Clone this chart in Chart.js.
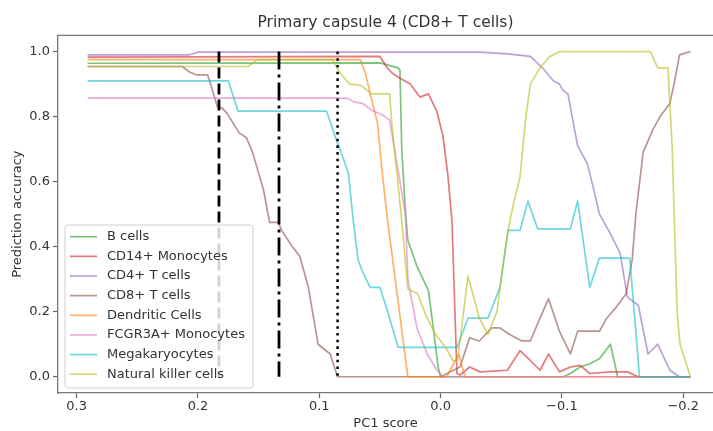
<!DOCTYPE html>
<html>
<head>
<meta charset="utf-8">
<script src="https://cdn.jsdelivr.net/npm/chart.js@4.4.1/dist/chart.umd.min.js"></script>
<style>
  html, body { margin: 0; padding: 0; background: #ffffff; overflow: hidden; }
  canvas { display: block; }
</style>
</head>
<body>
<canvas id="c" width="713" height="431"></canvas>
<script>
// ---------- data ----------
const chartTitle = 'Primary capsule 4 (CD8+ T cells)';
const xAxisTitle = 'PC1 score';
const yAxisTitle = 'Prediction accuracy';

const categories = ['B cells', 'CD14+ Monocytes', 'CD4+ T cells', 'CD8+ T cells',
  'Dendritic Cells', 'FCGR3A+ Monocytes', 'Megakaryocytes', 'Natural killer cells'];

const xTicks = [0.3, 0.2, 0.1, 0.0, -0.1, -0.2];
const xTickLabels = ['0.3', '0.2', '0.1', '0.0', '\u22120.1', '\u22120.2'];
const yTicks = [0.0, 0.2, 0.4, 0.6, 0.8, 1.0];
const yTickLabels = ['0.0', '0.2', '0.4', '0.6', '0.8', '1.0'];

const bCellsX = [0.291, 0.050, 0.035, 0.0335, 0.032, 0.029, 0.027, 0.0195, 0.017, 0.010, 0.006, 0.002, 0.000, -0.101, -0.107, -0.115, -0.123, -0.131, -0.140, -0.146, -0.206];
const bCellsY = [0.964, 0.965, 0.95, 0.943, 0.70, 0.51, 0.42, 0.34, 0.32, 0.265, 0.15, 0.03, 0.0, 0.0, 0.01, 0.03, 0.04, 0.055, 0.10, 0.0, 0.0];

const cd14X = [0.291, 0.050, 0.044, 0.040, 0.0335, 0.025, 0.017, 0.010, 0.003, -0.002, -0.006, -0.0094, -0.0135, -0.016, -0.024, -0.0325, -0.055, -0.0655, -0.074, -0.082, -0.089, -0.098, -0.107, -0.115, -0.123, -0.140, -0.154, -0.163, -0.206];
const cd14Y = [0.983, 0.985, 0.95, 0.934, 0.918, 0.90, 0.86, 0.87, 0.815, 0.74, 0.62, 0.48, 0.01, 0.005, 0.03, 0.015, 0.02, 0.08, 0.05, 0.02, 0.07, 0.015, 0.03, 0.035, 0.01, 0.015, 0.015, 0.0, 0.0];

const cd4X = [0.291, 0.207, 0.200, -0.0325, -0.055, -0.074, -0.084, -0.093, -0.098, -0.101, -0.105, -0.109, -0.113, -0.121, -0.126, -0.131, -0.140, -0.148, -0.154, -0.163, -0.171, -0.179, -0.189, -0.197, -0.206];
const cd4Y = [0.99, 0.99, 0.998, 0.998, 0.993, 0.985, 0.95, 0.91, 0.90, 0.88, 0.87, 0.79, 0.71, 0.655, 0.58, 0.50, 0.44, 0.38, 0.245, 0.22, 0.07, 0.10, 0.02, 0.0, 0.0];

const cd8X = [0.291, 0.213, 0.207, 0.201, 0.192, 0.188, 0.184, 0.180, 0.176, 0.171, 0.166, 0.160, 0.155, 0.146, 0.141, 0.134, 0.131, 0.124, 0.116, 0.109, 0.101, 0.091, 0.085, 0.000, -0.016, -0.024, -0.032, -0.042, -0.049, -0.057, -0.067, -0.074, -0.082, -0.089, -0.098, -0.107, -0.113, -0.123, -0.131, -0.137, -0.145, -0.153, -0.158, -0.161, -0.167, -0.175, -0.181, -0.189, -0.193, -0.197, -0.206];
const cd8Y = [0.954, 0.954, 0.937, 0.928, 0.928, 0.88, 0.83, 0.826, 0.81, 0.78, 0.75, 0.735, 0.69, 0.575, 0.475, 0.475, 0.45, 0.41, 0.37, 0.275, 0.10, 0.07, 0.0, 0.0, 0.03, 0.12, 0.11, 0.15, 0.15, 0.13, 0.11, 0.11, 0.18, 0.24, 0.14, 0.07, 0.14, 0.14, 0.14, 0.18, 0.215, 0.255, 0.36, 0.50, 0.69, 0.76, 0.80, 0.84, 0.91, 0.99, 1.0];

const dendX = [0.291, 0.066, 0.062, 0.058, 0.052, 0.048, 0.044, 0.027, -0.005, -0.015, -0.020, -0.206];
const dendY = [0.975, 0.975, 0.934, 0.87, 0.78, 0.625, 0.49, 0.0, 0.0, 0.07, 0.0, 0.0];

const fcgrX = [0.291, 0.077, 0.072, 0.064, 0.057, 0.048, 0.042, 0.029, 0.027, 0.0195, 0.011, 0.003, -0.002, -0.206];
const fcgrY = [0.857, 0.857, 0.846, 0.84, 0.82, 0.805, 0.79, 0.50, 0.30, 0.15, 0.07, 0.02, 0.0, 0.0];

const megaX = [0.291, 0.175, 0.167, 0.094, 0.087, 0.0805, 0.076, 0.072, 0.068, 0.064, 0.058, 0.050, 0.044, 0.035, -0.0135, -0.0226, -0.039, -0.049, -0.0556, -0.0655, -0.072, -0.080, -0.107, -0.113, -0.123, -0.131, -0.156, -0.164, -0.206];
const megaY = [0.91, 0.91, 0.817, 0.817, 0.74, 0.675, 0.625, 0.48, 0.36, 0.32, 0.275, 0.275, 0.205, 0.09, 0.09, 0.18, 0.18, 0.275, 0.45, 0.45, 0.54, 0.455, 0.455, 0.54, 0.275, 0.365, 0.365, 0.0, 0.0];

const nkX = [0.291, 0.159, 0.151, 0.089, 0.083, 0.075, 0.066, 0.057, 0.042, 0.040, 0.036, 0.032, 0.027, 0.019, 0.011, 0.005, -0.005, -0.010, -0.014, -0.0226, -0.032, -0.039, -0.0465, -0.0514, -0.0556, -0.060, -0.0655, -0.070, -0.074, -0.082, -0.090, -0.098, -0.173, -0.179, -0.1875, -0.191, -0.195, -0.1974, -0.206];
const nkY = [0.954, 0.954, 0.975, 0.975, 0.934, 0.90, 0.897, 0.87, 0.87, 0.77, 0.625, 0.48, 0.27, 0.255, 0.18, 0.135, 0.085, 0.05, 0.05, 0.31, 0.18, 0.13, 0.20, 0.34, 0.45, 0.53, 0.615, 0.79, 0.90, 0.95, 0.985, 1.0, 1.0, 0.95, 0.95, 0.70, 0.20, 0.10, 0.0];

// vertical threshold lines (x positions), drawn from 1 down to 0
const vlineX = [0.1827, 0.1332, 0.0849];
const vlineY = [1.0, 0.0];

// ---------- styling ----------
const seriesX = [bCellsX, cd14X, cd4X, cd8X, dendX, fcgrX, megaX, nkX];
const seriesY = [bCellsY, cd14Y, cd4Y, cd8Y, dendY, fcgrY, megaY, nkY];
const seriesColors = [
  'rgba(44,160,44,0.62)', 'rgba(214,39,40,0.62)', 'rgba(148,103,189,0.62)', 'rgba(140,86,75,0.62)',
  'rgba(255,127,14,0.62)', 'rgba(227,119,194,0.62)', 'rgba(23,190,207,0.62)', 'rgba(188,189,34,0.62)'
];
const vlineDash = [[11, 5], [18, 5, 3, 5], [2.6, 4.1]];
const vlineWidth = [2.8, 2.8, 2.5];

const FONT = 'DejaVu Sans';
const TEXT = '#333333';

const datasets = [];
seriesX.forEach((xs, i) => {
  datasets.push({
    label: categories[i],
    data: xs.map((x, j) => ({ x: x, y: seriesY[i][j] })),
    borderColor: seriesColors[i],
    backgroundColor: seriesColors[i],
    borderWidth: 1.7,
    pointRadius: 0,
    tension: 0,
    fill: false,
    borderJoinStyle: 'round',
    order: 10 - i,
    isSeries: true
  });
});
vlineX.forEach((vx, i) => {
  datasets.push({
    label: 'threshold ' + (i + 1),
    data: vlineY.map(v => ({ x: vx, y: v })),
    borderColor: '#000000',
    borderWidth: vlineWidth[i],
    borderDash: vlineDash[i],
    borderCapStyle: 'butt',
    pointRadius: 0,
    fill: false,
    order: 0,
    isSeries: false
  });
});

const framePlugin = {
  id: 'frameAndLegend',
  afterDraw(chart) {
    const { ctx, chartArea } = chart;
    ctx.save();
    // top spine
    ctx.strokeStyle = '#777777';
    ctx.lineWidth = 1.3;
    ctx.beginPath();
    ctx.moveTo(chartArea.left, chartArea.top);
    ctx.lineTo(chartArea.right, chartArea.top);
    ctx.stroke();

    // legend box (lower left, inside axes)
    const boxW = 188, boxH = 163, rowH = 19.65;
    const left = chartArea.left + 7;
    const top = chartArea.bottom - 5 - boxH;
    const r = 3;
    ctx.beginPath();
    ctx.moveTo(left + r, top);
    ctx.lineTo(left + boxW - r, top);
    ctx.arcTo(left + boxW, top, left + boxW, top + r, r);
    ctx.lineTo(left + boxW, top + boxH - r);
    ctx.arcTo(left + boxW, top + boxH, left + boxW - r, top + boxH, r);
    ctx.lineTo(left + r, top + boxH);
    ctx.arcTo(left, top + boxH, left, top + boxH - r, r);
    ctx.lineTo(left, top + r);
    ctx.arcTo(left, top, left + r, top, r);
    ctx.closePath();
    ctx.fillStyle = 'rgba(255,255,255,0.82)';
    ctx.fill();
    ctx.strokeStyle = '#d0d0d0';
    ctx.lineWidth = 1;
    ctx.stroke();

    ctx.font = '13px "' + FONT + '"';
    ctx.textBaseline = 'middle';
    ctx.textAlign = 'left';
    chart.data.datasets.filter(d => d.isSeries).forEach((ds, i) => {
      const y = top + 11.7 + i * rowH;
      ctx.strokeStyle = ds.borderColor;
      ctx.lineWidth = 1.7;
      ctx.beginPath();
      ctx.moveTo(left + 5, y);
      ctx.lineTo(left + 32, y);
      ctx.stroke();
      ctx.fillStyle = TEXT;
      ctx.fillText(ds.label, left + 42, y);
    });
    ctx.restore();
  }
};

function labelFor(ticks, labels, v) {
  for (let i = 0; i < ticks.length; i++) {
    if (Math.abs(ticks[i] - v) < 1e-9) return labels[i];
  }
  return '';
}

new Chart(document.getElementById('c'), {
  type: 'line',
  data: { datasets: datasets },
  options: {
    responsive: false,
    animation: false,
    events: [],
    layout: { padding: { top: 0, left: 0, right: 0, bottom: 0 } },
    plugins: {
      legend: { display: false },
      tooltip: { enabled: false },
      title: {
        display: true,
        text: chartTitle,
        fullSize: false,
        color: TEXT,
        font: { family: FONT, size: 15.5, weight: 'normal' },
        padding: { top: 14, bottom: 2.7 }
      }
    },
    scales: {
      x: {
        type: 'linear',
        reverse: true,
        min: -0.2246,
        max: 0.3154,
        afterBuildTicks: s => { s.ticks = xTicks.map(v => ({ value: v })); },
        afterFit: s => { s.height = 38; },
        ticks: {
          autoSkip: false, maxRotation: 0, padding: 1,
          color: TEXT, font: { family: FONT, size: 13 },
          callback: v => labelFor(xTicks, xTickLabels, v)
        },
        grid: { drawOnChartArea: false, drawTicks: true, tickLength: 5, color: '#666666', tickWidth: 1.2 },
        border: { display: true, color: '#777777', width: 1.3 },
        title: { display: true, text: xAxisTitle, color: TEXT, font: { family: FONT, size: 13 }, padding: { top: 0, bottom: 0 } }
      },
      y: {
        type: 'linear',
        min: -0.05,
        max: 1.05,
        afterBuildTicks: s => { s.ticks = yTicks.map(v => ({ value: v })); },
        afterFit: s => { s.width = 58; },
        ticks: {
          autoSkip: false, padding: 3,
          color: TEXT, font: { family: FONT, size: 13 },
          callback: v => labelFor(yTicks, yTickLabels, v)
        },
        grid: { drawOnChartArea: false, drawTicks: true, tickLength: 5, color: '#666666', tickWidth: 1.2 },
        border: { display: true, color: '#777777', width: 1.3 },
        title: { display: true, text: yAxisTitle, color: TEXT, font: { family: FONT, size: 13 }, padding: { top: 10, bottom: 0 } }
      }
    }
  },
  plugins: [framePlugin]
});
</script>
</body>
</html>
